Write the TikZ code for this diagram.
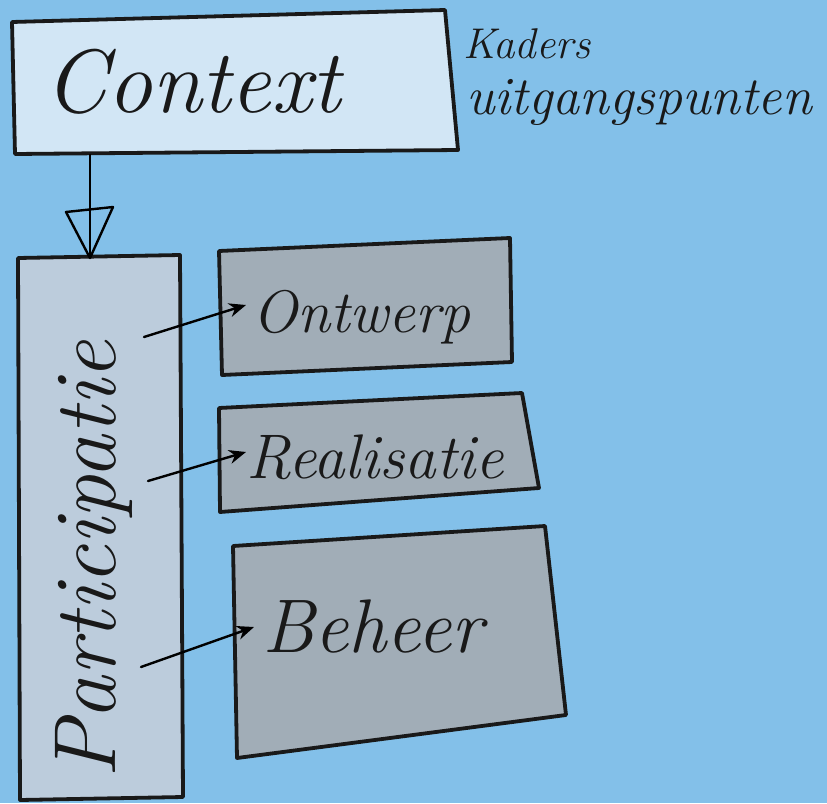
\documentclass[tikz,border=0pt]{standalone}
\usepackage{fontspec}
\usetikzlibrary{arrows.meta}
\definecolor{bgblue}{RGB}{131,192,233}
\definecolor{ctxfill}{RGB}{210,230,245}
\definecolor{partfill}{RGB}{188,204,220}
\definecolor{greyfill}{RGB}{161,173,183}
\begin{document}
\begin{tikzpicture}[x=1pt,y=-1pt,
  box/.style={draw=black!90,line width=3.8pt,line join=round},
  hand/.style={inner sep=0pt,text=black!90},
  link/.style={line width=2.4pt,line cap=round,-{Stealth[length=17pt,width=14pt]}}]
\fill[bgblue] (0,0) rectangle (827,803);
\useasboundingbox (0,0) rectangle (827,803);
% boxes
\draw[box,fill=ctxfill] (12,22) -- (445,10) -- (458,150) -- (15,154) -- cycle;
\draw[box,fill=partfill] (18,258) -- (180,255) -- (183,797) -- (20,800) -- cycle;
\draw[box,fill=greyfill] (219,251) -- (510,238) -- (512,362) -- (222,375) -- cycle;
\draw[box,fill=greyfill] (219,408) -- (522,393) -- (539,488) -- (220,512) -- cycle;
\draw[box,fill=greyfill] (233,546) -- (545,526) -- (566,715) -- (237,758) -- cycle;
% texts
\node[hand,anchor=base west,font=\fontsize{90}{90}\selectfont\itshape] (context) at (44,112) {Context};
\node[hand,anchor=base west,font=\fontsize{43}{43}\selectfont\itshape] (kaders) at (463,58) {Kaders};
\node[hand,anchor=base west,font=\fontsize{54}{54}\selectfont\itshape] (uitgang) at (466,114) {uitgangspunten};
\node[hand,rotate=90,font=\fontsize{88}{88}\selectfont\itshape] (partic) at (94,560) {Participatie};
\node[hand,anchor=base west,font=\fontsize{60}{60}\selectfont\itshape] (ontwerp) at (252,332) {Ontwerp};
\node[hand,anchor=base west,font=\fontsize{63}{63}\selectfont\itshape] (realisatie) at (246,478) {Realisatie};
\node[hand,anchor=base west,font=\fontsize{76}{76}\selectfont\itshape] (beheer) at (262,652) {Beheer};
% connectors
\coordinate (ctxout) at (90,154);
\coordinate (partin) at (90,258);
\draw[line width=1.8pt] (ctxout) -- (partin);
\draw[line width=2.4pt,line join=round] (66,212) -- (113,207) -- (partin) -- cycle;
\coordinate (po) at (144,337);
\coordinate (pr) at (148,481);
\coordinate (pb) at (141,667);
\coordinate (oin) at (246,305);
\coordinate (rin) at (246,452);
\coordinate (bin) at (254,627);
\draw[link] (po) -- (oin);
\draw[link] (pr) -- (rin);
\draw[link] (pb) -- (bin);
\end{tikzpicture}
\end{document}
